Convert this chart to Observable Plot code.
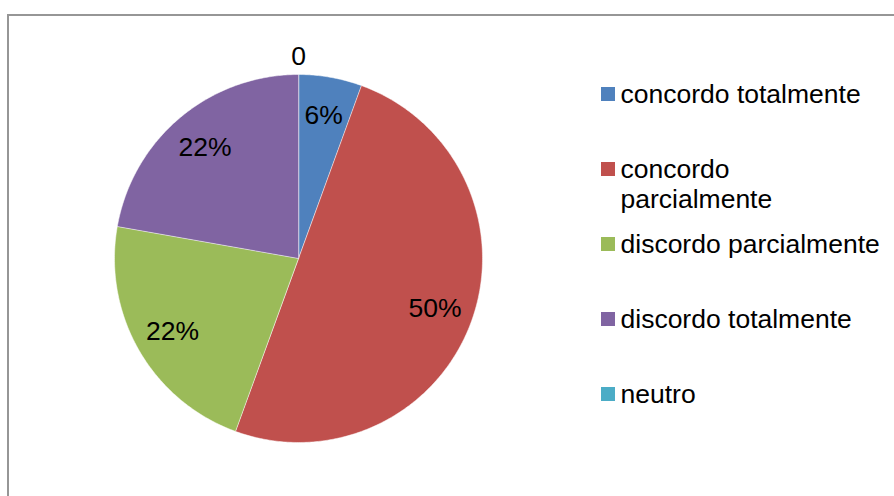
<!DOCTYPE html>
<html>
<head>
<meta charset="utf-8">
<script src="https://cdn.jsdelivr.net/npm/d3@7"></script>
<script src="https://cdn.jsdelivr.net/npm/@observablehq/plot@0.6"></script>
<style>
  html, body { margin: 0; padding: 0; background: #fff; }
  #wrap { position: relative; width: 894px; height: 496px; overflow: hidden; font-family: "Liberation Sans", Arial, Helvetica, sans-serif; }
  #frame { position: absolute; left: 7px; top: 14px; width: 960px; height: 560px; border: 2px solid #969696; box-sizing: border-box; pointer-events: none; }
  #chart { position: absolute; left: 0; top: 0; }
</style>
</head>
<body>
<div id="wrap"><div id="frame"></div><div id="chart"></div></div>
<script>
// ---- data ----
const categories = ["concordo totalmente", "concordo parcialmente", "discordo parcialmente", "discordo totalmente", "neutro"];
const counts = [1, 9, 4, 4, 0];
const sliceLabels = ["6%", "50%", "22%", "22%", "0"];
const legendLabels = ["concordo totalmente", "concordo\nparcialmente", "discordo parcialmente", "discordo totalmente", "neutro"];
const colors = ["#4F81BD", "#C0504D", "#9BBB59", "#8064A2", "#4BACC6"];

// ---- layout ----
const W = 894, H = 496;
const cx = 298, cy = 258, R = 184;
const legendX = 601, legendSize = 14, legendTop = 94, legendStep = 75, fontSize = 26.5;

const rows = categories.map((c, i) => ({category: c, value: counts[i], label: sliceLabels[i], legend: legendLabels[i], i}));
const arcs = d3.pie().sort(null).value(d => d.value)(rows);

// slice polygons
const pts = [];
for (const a of arcs) {
  if (a.endAngle - a.startAngle <= 0) continue;
  const cat = a.data.category;
  pts.push({category: cat, x: cx, y: cy});
  const n = Math.max(2, Math.ceil((a.endAngle - a.startAngle) / 0.01));
  for (let k = 0; k <= n; k++) {
    const t = a.startAngle + (a.endAngle - a.startAngle) * k / n;
    pts.push({category: cat, x: cx + R * Math.sin(t), y: cy - R * Math.cos(t)});
  }
}

// slice labels
const labels = arcs.map(a => {
  const mid = (a.startAngle + a.endAngle) / 2;
  const d = a.value > 0 ? R * 0.79 : R + 18;
  return {label: a.data.label, x: cx + d * Math.sin(mid), y: cy - d * Math.cos(mid)};
});

// legend
const legend = rows.map(r => ({
  category: r.category,
  text: r.legend,
  yc: legendTop + legendStep * r.i
}));

const chart = Plot.plot({
  width: W,
  height: H,
  margin: 0,
  x: {domain: [0, W], range: [0, W], axis: null},
  y: {domain: [0, H], range: [0, H], axis: null},
  color: {domain: categories, range: colors},
  style: {fontFamily: '"Liberation Sans", Arial, Helvetica, sans-serif', background: "transparent"},
  marks: [
    Plot.line(pts, {x: "x", y: "y", z: "category", fill: "category", stroke: "white", strokeWidth: 0.5, curve: "linear-closed"}),
    Plot.text(labels, {x: "x", y: "y", text: "label", fontSize, fill: "black", lineAnchor: "middle"}),
    Plot.rect(legend, {x1: () => legendX, x2: () => legendX + legendSize, y1: d => d.yc - legendSize / 2, y2: d => d.yc + legendSize / 2, fill: "category"}),
    Plot.text(legend, {x: () => legendX + legendSize + 5, y: d => d.yc - 12.5, text: "text", textAnchor: "start", lineAnchor: "top", lineHeight: 30 / 26.5, fontSize, fill: "black"})
  ]
});
document.getElementById("chart").appendChild(chart);
</script>
</body>
</html>
